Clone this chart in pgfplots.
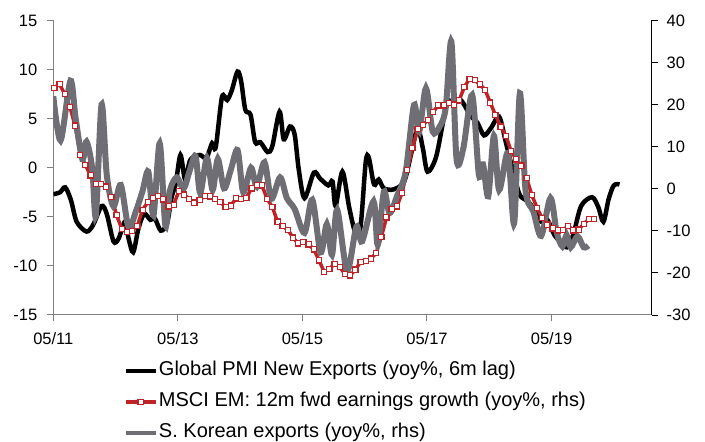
\documentclass[border=0pt]{standalone}
\usepackage{fontspec}
\setmainfont{Liberation Sans}
\usepackage{pgfplots}
\usepackage{pgfplotstable}
\pgfplotsset{compat=1.18}
\definecolor{cRed}{RGB}{190,35,40}
\definecolor{cGray}{RGB}{110,110,116}
\definecolor{cAxisL}{RGB}{128,128,128}

% months after 05/11, value
\pgfplotstableread{
m L
0 -2.7
1.3 -2.5
2.3 -2.0
3.4 -3.3
4.5 -5.5
6.4 -6.5
7.7 -5.8
9.3 -3.9
10.3 -4.7
11.6 -7.5
12.6 -7.2
13.8 -5.5
14.5 -7.2
15.4 -8.6
16.4 -6.2
17.5 -4.7
18.7 -5.3
19.6 -5.2
20.7 -6.4
21.9 -5.7
22.8 -3.0
23.6 -1.6
24.5 1.3
25.4 -1.2
26.4 0.8
28.2 1.3
29.5 1.0
30.6 2.5
31.3 2.1
32.5 7.2
33.5 6.9
34.4 7.9
35.5 9.8
36.2 8.8
37.0 5.9
38.0 5.4
38.9 2.6
39.9 2.6
41.3 1.6
42.2 2.2
43.6 5.7
44.4 2.9
45.6 4.2
46.5 3.4
47.3 -0.2
48.4 -3.1
50.2 -0.5
51.4 -1.1
53.0 -1.8
53.8 -1.4
54.4 -3.9
55.7 -0.4
57.0 -4.0
58.2 -6.6
59.2 -6.0
60.2 0.6
60.8 1.0
61.8 -1.7
62.7 -1.2
63.7 -2.1
65.6 -2.2
67.6 -1.4
68.9 1.3
70.2 4.0
71.2 2.0
72.1 -0.4
73.7 1.0
75.0 4.4
75.9 6.8
77.0 6.6
78.5 6.9
80.4 5.3
81.7 4.6
83.0 3.3
84.4 4.1
85.9 5.2
87.2 2.6
88.8 -0.8
89.9 -2.8
91.4 -3.4
92.7 -4.3
94.0 -5.5
95.2 -5.3
96.5 -6.8
97.8 -7.6
99.0 -8.1
100.2 -6.8
101.7 -3.9
103.8 -3.0
105.0 -4.0
106.0 -5.5
107.0 -3.2
108.0 -1.8
109.1 -1.7
}\pmi

\pgfplotstableread{
m R
0.2 24.0
1.2 24.9
2.2 22.5
3.2 19.5
4.2 15.0
5.2 8.0
6.2 5.6
7.2 3.2
8.2 1.2
9.2 1.1
10.2 0.5
11.2 -2.0
12.2 -6.3
13.2 -9.5
14.2 -10.3
15.2 -10.0
16.2 -8.8
17.2 -5.0
18.2 -3.2
19.2 -2.2
20.2 -1.7
21.2 -2.5
22.2 -4.2
23.2 -3.8
24.2 -0.5
25.2 -1.4
26.2 -2.4
27.2 -3.3
28.2 -2.7
29.2 -1.7
30.2 -1.8
31.2 -2.4
32.2 -3.2
33.2 -4.3
34.2 -4.0
35.2 -2.3
36.2 -2.4
37.2 -2.2
38.2 0.1
39.2 0.9
40.2 0.8
41.2 -2.4
42.2 -4.3
43.2 -7.8
44.2 -8.9
45.2 -9.8
46.2 -11.6
47.2 -13.0
48.2 -12.7
49.2 -13.2
50.2 -14.4
51.2 -17.0
52.2 -19.8
53.2 -19.0
54.2 -17.9
55.2 -18.6
56.2 -20.3
57.2 -20.6
58.2 -19.2
59.2 -17.4
60.2 -17.2
61.2 -16.6
62.2 -15.3
63.2 -11.5
64.2 -6.8
65.2 -4.8
66.2 -4.2
67.2 -1.0
68.2 4.5
69.2 9.7
70.2 14.2
71.2 15.2
72.2 16.3
73.2 18.3
74.2 19.8
75.2 19.8
76.2 20.4
77.2 20.0
78.2 21.0
79.2 24.2
80.2 26.1
81.2 25.8
82.2 24.8
83.2 23.5
84.2 20.5
85.2 17.5
86.2 14.8
87.2 12.6
88.2 9.0
89.2 7.0
90.2 5.5
91.2 2.5
92.2 -1.5
93.2 -4.5
94.2 -7.0
95.2 -8.5
96.2 -9.4
97.2 -9.9
98.2 -9.8
99.2 -8.8
100.2 -9.9
101.2 -9.7
102.2 -8.4
103.2 -7.2
104.2 -7.2
}\msci

\pgfplotstableread{
m R
0 22.0
1.4 11.5
3.3 25.7
4.3 16.8
5.6 7.0
6.4 11.2
7.5 4.9
8.2 -6.4
9.3 20.0
10.3 3.3
11.6 -4.2
13.0 0.9
14.5 -9.2
15.9 -5.4
17.2 -0.5
18.3 4.1
19.3 -6.3
20.5 10.8
21.6 -8.8
22.5 -0.3
23.8 2.7
25.1 0.0
26.2 4.0
27.4 7.8
28.3 -1.0
29.6 7.3
30.7 -0.3
31.7 7.1
32.9 0.1
34.2 4.5
35.5 9.2
36.6 -0.8
38.1 5.0
39.2 0.5
40.7 6.3
42.0 -2.4
43.7 2.7
45.0 -2.2
46.5 -4.8
48.4 -10.5
49.9 -2.6
51.5 -15.1
52.7 -8.4
53.7 -15.7
54.7 -5.0
56.6 -19.5
58.4 -9.0
59.5 -12.5
61.7 -3.0
62.5 -13.3
63.7 -0.7
64.8 -5.8
66.3 -1.5
67.9 4.1
69.5 19.9
70.5 13.6
71.8 23.9
73.1 13.6
74.4 14.7
75.6 19.1
76.7 35.0
77.7 7.0
79.0 9.6
80.7 22.3
82.0 3.3
82.8 5.8
83.8 -1.8
84.9 12.6
85.9 -0.3
87.6 8.5
88.8 -8.2
89.9 22.7
91.0 -0.5
92.5 -5.4
94.0 -11.2
95.8 -2.2
97.0 -10.4
98.1 -13.7
98.9 -11.0
99.7 -13.9
101.0 -11.3
102.2 -13.9
103.1 -13.5
}\korea

\pgfplotsset{
  twin/.style={
    scale only axis, width=598.4bp, height=294.5bp,
    at={(53.3bp,127bp)}, anchor=south west,
    xmin=0, xmax=115.3,
    tick align=outside, major tick length=6.5bp,
    tick label style={font=\fontsize{16.5bp}{18bp}\selectfont},
    /pgf/number format/assume math mode=true,
  },
}

\begin{document}
\begin{tikzpicture}
\useasboundingbox (0,0) rectangle (705bp,442bp);
\begin{axis}[
  twin,
  ymin=-15, ymax=15, ytick={-15,-10,...,15},
  axis y line*=left, axis x line*=bottom,
  axis line style={cAxisL, line width=1bp},
  major tick style={cAxisL, line width=1bp},
  yticklabel style={xshift=-6bp},
  xticklabel style={yshift=-8bp},
  xtick={0,24,48,72,96},
  xticklabels={05/11,05/13,05/15,05/17,05/19},
]
\addplot[black, line width=4.5bp, smooth] table {\pmi};
\end{axis}
\begin{axis}[
  twin,
  ymin=-30, ymax=40, ytick={-30,-20,...,40},
  axis y line*=right, axis x line=none,
  axis line style={black, line width=1bp},
  major tick style={black, line width=1bp},
  yticklabel style={xshift=5bp},
  legend image code/.code={\draw[mark repeat=2,mark phase=2,#1,line width=3.8bp] plot coordinates {(0bp,0bp) (15bp,0bp) (30bp,0bp)};},
  legend style={draw=none, fill=none, inner sep=0pt,
    at={(axis description cs:0.1173,-0.152)}, anchor=north west,
    legend cell align=left,
    font=\fontsize{20bp}{24bp}\selectfont,
    row sep=9bp,
    nodes={inner sep=1.5bp, text height=14.5bp, text depth=4.5bp}},
]
\addlegendimage{black, line width=4.5bp}
\addplot[cRed, line width=3.5bp, mark=square*, mark size=2.6bp,
  mark options={fill=white, draw=cRed, line width=1.2bp}] table {\msci};
\addplot[cGray, line width=6bp, smooth] table {\korea};
\legend{{Global PMI New Exports (yoy\%, 6m lag)},
  {MSCI EM: 12m fwd earnings growth (yoy\%, rhs)},
  {S. Korean exports (yoy\%, rhs)}}
\end{axis}
\end{tikzpicture}
\end{document}
